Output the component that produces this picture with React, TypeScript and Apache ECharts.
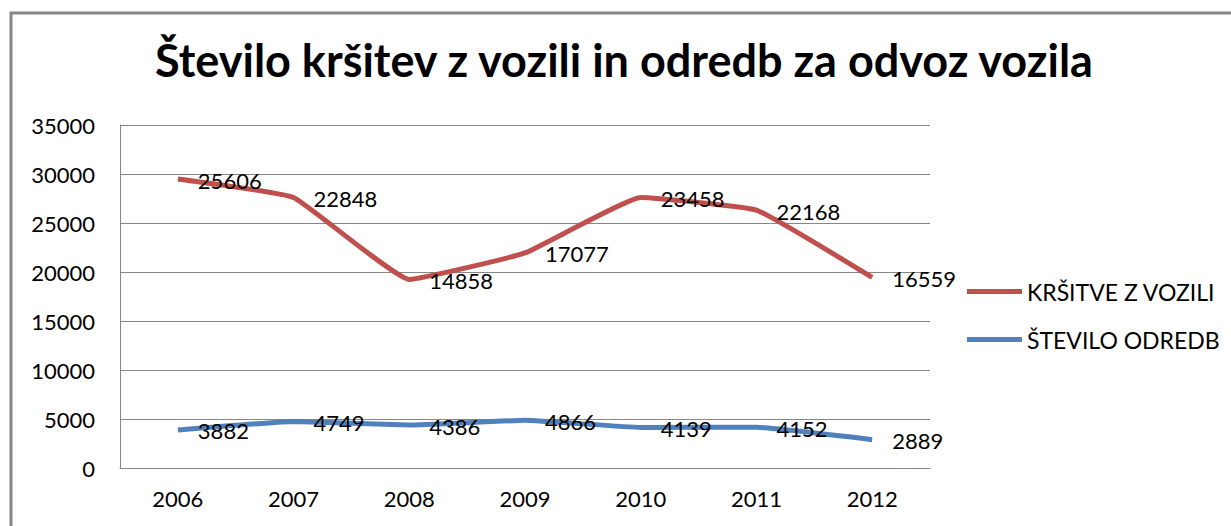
import React, { useEffect, useRef } from "react";
import * as echarts from "echarts";

const years = ["2006", "2007", "2008", "2009", "2010", "2011", "2012"];
const stOdredb = [3882, 4749, 4386, 4866, 4139, 4152, 2889];
const krsitve = [25606, 22848, 14858, 17077, 23458, 22168, 16559];
const seriesNames = ["KRŠITVE Z VOZILI", "ŠTEVILO ODREDB"];
const seriesColors = ["#C0504D", "#4F81BD"];
const titleText = "Število kršitev z vozili in odredb za odvoz vozila";

const FONT = "Lato";

export default function App() {
  const ref = useRef<HTMLDivElement>(null);
  useEffect(() => {
    if (!ref.current) return;
    const chart = echarts.init(ref.current, undefined, { renderer: "svg" });
    const labelStyle = {
      show: true,
      position: "right" as const,
      distance: 19,
      offset: [0, 1],
      color: "#000",
      fontFamily: FONT,
      fontSize: 22,
    };
    chart.setOption({
      animation: false,
      backgroundColor: "#fff",
      title: {
        text: titleText,
        left: 150,
        top: 32,
        textStyle: { fontFamily: FONT, fontWeight: "bold", fontSize: 45, color: "#000" },
      },
      graphic: [
        {
          type: "rect",
          shape: { x: 11, y: 13, width: 1300, height: 600 },
          style: { fill: "none", stroke: "#868686", lineWidth: 3 },
        },
      ],
      legend: {
        orient: "vertical",
        left: 967,
        top: 280,
        padding: 0,
        itemGap: 25,
        itemWidth: 55,
        itemHeight: 5,
        icon: "rect",
        data: [
          { name: seriesNames[0], itemStyle: { color: seriesColors[0] } },
          { name: seriesNames[1], itemStyle: { color: seriesColors[1] } },
        ],
        textStyle: { fontFamily: FONT, fontSize: 23, color: "#000" },
      },
      grid: { left: 120, right: 301, top: 125, bottom: 58 },
      xAxis: {
        type: "category",
        data: years,
        boundaryGap: true,
        axisLine: { lineStyle: { color: "#868686", width: 1 } },
        axisTick: { show: false },
        axisLabel: { color: "#000", fontFamily: FONT, fontSize: 22, margin: 19 },
      },
      yAxis: {
        type: "value",
        min: 0,
        max: 35000,
        interval: 5000,
        axisLine: { show: true, lineStyle: { color: "#868686", width: 1 } },
        axisTick: { show: false },
        splitLine: { lineStyle: { color: "#868686", width: 1 } },
        axisLabel: {
          color: "#000",
          fontFamily: FONT,
          fontSize: 22,
          margin: 25,
          formatter: (v: number) => String(v),
        },
      },
      series: [
        {
          name: seriesNames[1],
          type: "line",
          stack: "total",
          data: stOdredb,
          smooth: 0.1,
          symbol: "circle",
          symbolSize: 2,
          showSymbol: true,
          itemStyle: { color: "rgba(0,0,0,0)" },
          lineStyle: { width: 5, color: seriesColors[1] },
          label: labelStyle,
          z: 2,
        },
        {
          name: seriesNames[0],
          type: "line",
          stack: "total",
          data: krsitve,
          smooth: 0.1,
          symbol: "circle",
          symbolSize: 2,
          showSymbol: true,
          itemStyle: { color: "rgba(0,0,0,0)" },
          lineStyle: { width: 5, color: seriesColors[0] },
          label: labelStyle,
          z: 2,
        },
      ],
    });
    return () => chart.dispose();
  }, []);
  return (
    <div
      ref={ref}
      style={{ position: "absolute", left: 0, top: 0, width: 1231, height: 526 }}
    />
  );
}
